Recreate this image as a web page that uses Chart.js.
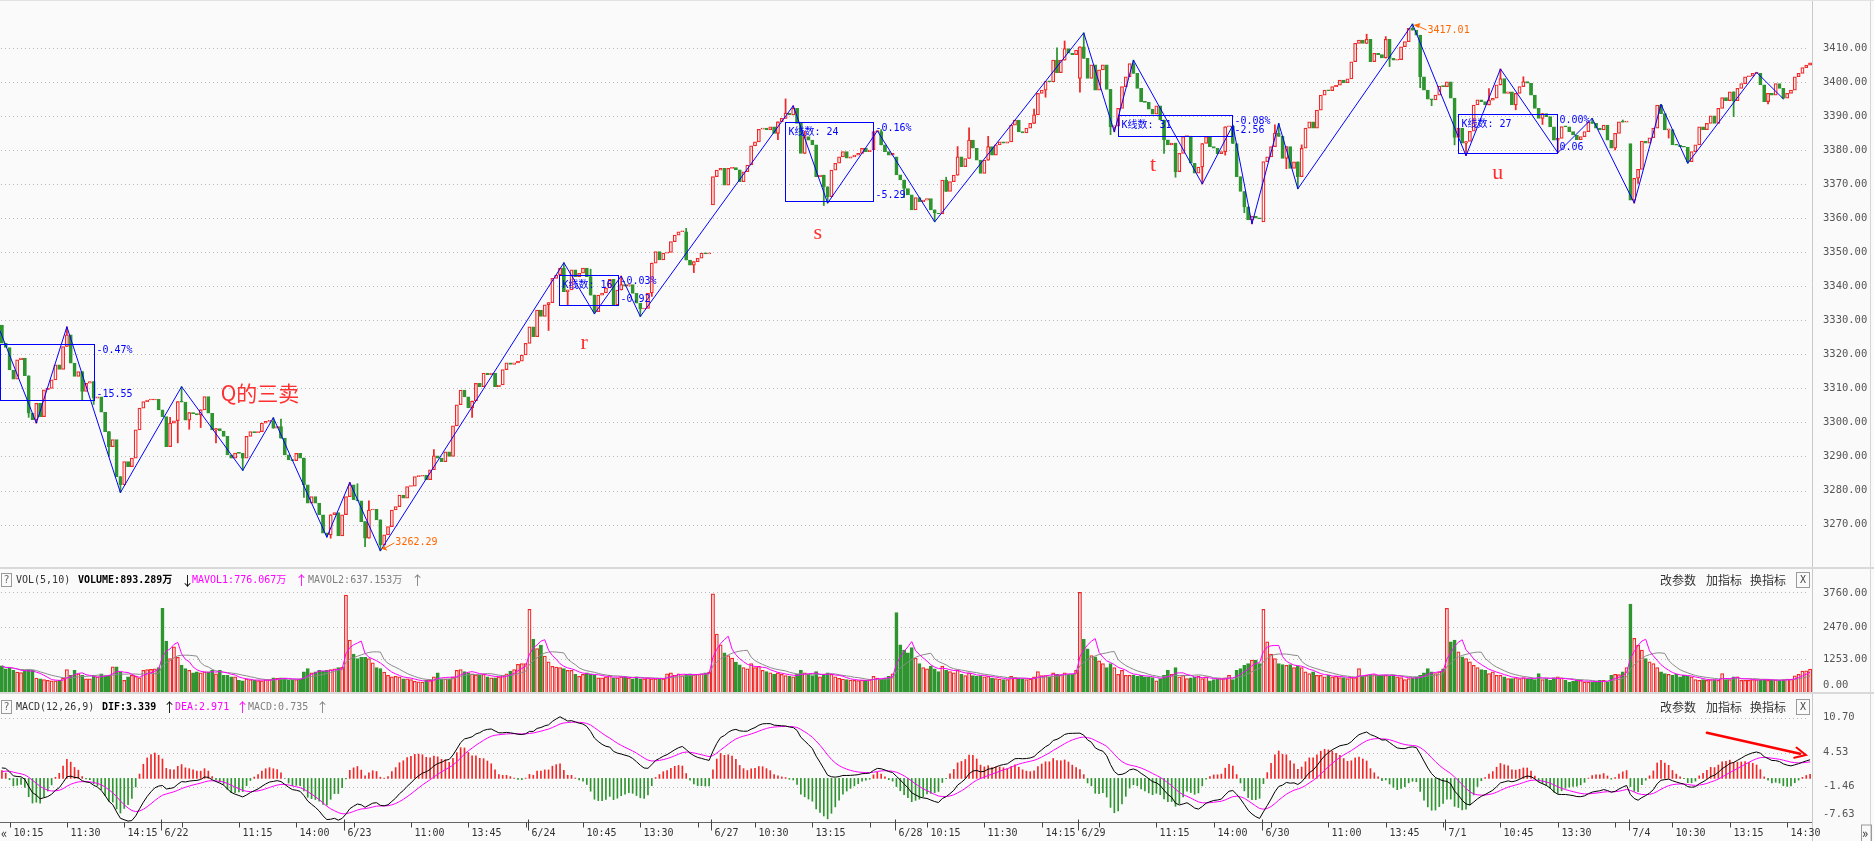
<!DOCTYPE html>
<html>
<head>
<meta charset="utf-8">
<script src="https://cdn.jsdelivr.net/npm/chart.js@4.4.1/dist/chart.umd.min.js"></script>
<style>
  html, body { margin: 0; padding: 0; background: #fafafa; }
  #wrap { position: relative; width: 1874px; height: 841px; overflow: hidden; background: #fafafa; }
  .pane { position: absolute; left: 0; width: 1874px; }
</style>
</head>
<body>
<div id="wrap">
  <div class="pane" style="top:0;height:569px"><canvas id="kline"></canvas></div>
  <div class="pane" style="top:569px;height:126px"><canvas id="vol"></canvas></div>
  <div class="pane" style="top:695px;height:146px"><canvas id="macd"></canvas></div>
</div>
<script>
// ---- data (5-minute bars, 6/21 10:05 .. 7/4 15:00) ----
const dayLabels = ['6/21', '6/22', '6/23', '6/24', '6/27', '6/28', '6/29', '6/30', '7/1', '7/4'];
const dayBars = [42, 48, 48, 48, 48, 48, 48, 48, 48, 48];
const firstSlot = 6; // first visible bar of 6/21 is the 10:05 bar
const dayOpens = [3328.6, 3303.7, 3272.9, 3323.2, 3363.9, 3378.0, 3401.0, 3358.9, 3398.6, 3381.9];

const closes = [
  // 6/21
  3323.3, 3322.0, 3315.4, 3312.7, 3318.4, 3318.9, 3313.7, 3302.7, 3300.8, 3305.6,
  3301.7, 3309.6, 3310.0, 3312.5, 3316.9, 3315.6, 3322.3, 3325.7, 3317.4, 3313.5,
  3314.9, 3309.1, 3311.5, 3312.0, 3307.1, 3307.5, 3303.0, 3297.3, 3292.9, 3295.0,
  3284.1, 3281.7, 3288.5, 3287.0, 3289.5, 3297.8, 3304.2, 3306.1, 3306.6, 3306.6,
  3306.8, 3303.7,
  // 6/22
  3301.7, 3292.9, 3299.8, 3300.5, 3306.1, 3306.0, 3300.7, 3302.9, 3302.6, 3302.2,
  3303.7, 3307.6, 3302.7, 3297.8, 3298.2, 3297.5, 3295.9, 3290.5, 3289.5, 3291.0,
  3290.9, 3289.5, 3295.9, 3297.3, 3297.0, 3297.3, 3299.8, 3300.3, 3300.3, 3298.3,
  3298.8, 3295.4, 3290.5, 3289.0, 3288.8, 3290.9, 3289.5, 3281.7, 3276.3, 3278.2,
  3276.3, 3272.9, 3267.5, 3267.0, 3272.9, 3273.5, 3266.7, 3272.9,
  // 6/23
  3278.2, 3281.7, 3277.3, 3277.0, 3270.9, 3266.0, 3274.3, 3274.5, 3271.4, 3264.0,
  3267.0, 3269.4, 3274.3, 3275.3, 3278.7, 3277.8, 3281.2, 3281.3, 3284.1, 3284.2,
  3284.5, 3283.2, 3286.1, 3290.2, 3289.5, 3288.5, 3291.4, 3290.0, 3299.0, 3305.2,
  3309.5, 3307.5, 3304.3, 3306.3, 3311.5, 3310.5, 3314.5, 3314.0, 3314.5, 3310.5,
  3311.0, 3315.5, 3317.5, 3317.0, 3317.5, 3318.0, 3319.8, 3323.2,
  // 6/24
  3328.1, 3325.2, 3333.0, 3331.1, 3334.5, 3335.2, 3342.3, 3343.3, 3345.3, 3338.4,
  3338.9, 3344.8, 3342.8, 3343.8, 3345.3, 3342.8, 3337.4, 3332.5, 3337.4, 3338.0,
  3339.5, 3342.0, 3334.5, 3338.9, 3340.5, 3340.0, 3340.5, 3337.9, 3335.0, 3333.3,
  3333.5, 3338.0, 3346.8, 3350.2, 3347.7, 3349.7, 3349.9, 3353.1, 3355.0, 3356.0,
  3356.0, 3347.7, 3346.2, 3347.2, 3348.2, 3349.7, 3349.5, 3349.8,
  // 6/27
  3372.2, 3374.1, 3374.6, 3369.7, 3374.6, 3374.8, 3374.2, 3370.7, 3373.6, 3375.6,
  3381.2, 3382.4, 3386.1, 3386.4, 3386.0, 3386.8, 3384.9, 3388.3, 3389.3, 3390.8,
  3390.3, 3392.2, 3387.8, 3379.0, 3383.9, 3382.9, 3381.5, 3372.2, 3372.6, 3369.2,
  3366.3, 3374.1, 3376.1, 3378.0, 3379.5, 3377.6, 3378.0, 3378.5, 3379.0, 3380.5,
  3379.5, 3380.0, 3385.4, 3385.4, 3381.5, 3379.5, 3378.5, 3379.0,
  // 6/28
  3372.7, 3371.2, 3368.7, 3366.8, 3362.4, 3366.0, 3364.8, 3365.3, 3365.7, 3362.4,
  3361.5, 3361.2, 3371.2, 3367.8, 3370.7, 3372.6, 3378.0, 3375.1, 3377.5, 3382.9,
  3380.5, 3377.0, 3373.1, 3377.0, 3381.0, 3378.5, 3381.5, 3382.4, 3382.0, 3382.4,
  3387.3, 3388.8, 3385.4, 3385.0, 3386.4, 3387.8, 3390.3, 3396.6, 3397.6, 3400.1,
  3400.0, 3406.4, 3402.7, 3406.4, 3409.8, 3408.4, 3408.0, 3409.3,
  // 6/29
  3410.3, 3406.9, 3401.0, 3405.0, 3397.6, 3403.5, 3405.0, 3397.8, 3386.8, 3387.0,
  3392.2, 3398.6, 3401.5, 3405.4, 3402.5, 3398.1, 3394.2, 3394.0, 3392.0, 3390.5,
  3393.0, 3388.8, 3383.0, 3381.5, 3382.0, 3373.6, 3379.0, 3383.9, 3384.1, 3376.1,
  3373.2, 3375.0, 3381.9, 3383.9, 3381.0, 3380.5, 3378.9, 3379.5, 3386.8, 3387.0,
  3381.9, 3372.2, 3367.8, 3363.3, 3359.5, 3360.5, 3360.0, 3359.8,
  // 6/30
  3376.6, 3378.0, 3381.0, 3385.0, 3384.0, 3377.5, 3381.0, 3374.6, 3376.5, 3372.2,
  3380.5, 3386.4, 3388.3, 3386.4, 3391.7, 3396.1, 3397.6, 3397.4, 3398.6, 3399.0,
  3400.5, 3399.8, 3400.9, 3405.9, 3411.3, 3412.3, 3411.3, 3412.5, 3405.9, 3408.4,
  3408.0, 3407.0, 3412.5, 3406.9, 3406.4, 3406.5, 3410.3, 3411.8, 3415.7, 3415.2,
  3413.7, 3401.5, 3397.6, 3394.9, 3394.7, 3396.1, 3398.8, 3398.6,
  // 7/1
  3400.0, 3395.2, 3383.7, 3386.4, 3382.0, 3382.5, 3385.5, 3393.2, 3394.7, 3394.2,
  3393.2, 3394.6, 3395.2, 3399.1, 3401.0, 3396.6, 3397.1, 3393.2, 3396.6, 3398.6,
  3400.1, 3399.6, 3396.1, 3392.2, 3389.3, 3390.7, 3389.8, 3386.8, 3382.9, 3383.4,
  3386.9, 3386.8, 3385.4, 3384.4, 3383.0, 3383.9, 3385.4, 3388.3, 3387.8, 3386.4,
  3385.9, 3387.3, 3382.9, 3380.5, 3384.9, 3388.3, 3388.2, 3388.3,
  // 7/4
  3365.3, 3371.7, 3374.3, 3382.6, 3382.0, 3383.6, 3386.4, 3393.2, 3390.7, 3385.9,
  3386.0, 3381.5, 3381.4, 3381.0, 3380.8, 3376.6, 3379.5, 3381.5, 3386.8, 3386.0,
  3387.8, 3390.0, 3387.8, 3392.2, 3395.4, 3394.5, 3397.1, 3394.5, 3398.1, 3399.5,
  3401.5, 3401.7, 3402.5, 3402.5, 3399.1, 3394.2, 3396.6, 3396.1, 3399.5, 3398.1,
  3395.2, 3396.6, 3397.6, 3401.5, 3402.5, 3404.2, 3404.9, 3405.6
];

// shadows that stick out of the bodies: [bar, price]
const wickHighs = [
  [17, 3328.1], [44, 3301.5], [47, 3310.5], [71, 3301.4], [73, 3301.0], [91, 3282.4], [93, 3282.0],
  [96, 3277.0], [113, 3292.0], [147, 3346.9], [154, 3345.0], [162, 3343.0], [179, 3357.0],
  [205, 3395.0], [207, 3393.0], [210, 3385.5], [229, 3385.6], [230, 3386.0], [247, 3372.0],
  [250, 3381.0], [253, 3386.5], [258, 3384.0], [270, 3392.0], [276, 3410.0], [278, 3412.0],
  [283, 3414.4], [296, 3406.4], [322, 3387.3], [333, 3387.4], [334, 3387.8], [340, 3381.5],
  [357, 3414.0], [362, 3413.3], [369, 3417.01], [389, 3398.0], [392, 3403.8], [398, 3401.5],
  [416, 3389.3], [424, 3388.8], [434, 3393.4], [459, 3402.8]
];
const wickLows = [
  [7, 3301.5], [9, 3299.8], [21, 3306.5], [24, 3305.3], [28, 3290.0], [31, 3279.4], [46, 3294.0],
  [49, 3298.0], [52, 3298.5], [56, 3294.0], [63, 3285.9], [79, 3278.0], [85, 3266.3], [86, 3266.0],
  [95, 3263.5], [99, 3262.29], [123, 3301.5], [143, 3327.0], [148, 3334.5], [155, 3331.9],
  [167, 3331.1], [170, 3337.0], [181, 3344.0], [203, 3383.0], [215, 3363.7], [216, 3364.4],
  [236, 3366.0], [244, 3358.9], [273, 3395.5], [282, 3397.0], [290, 3384.5], [291, 3385.3],
  [304, 3379.0], [307, 3372.0], [314, 3370.0], [320, 3378.5], [325, 3361.6], [327, 3358.3],
  [336, 3374.5], [339, 3368.6], [363, 3404.5], [371, 3398.3], [374, 3393.0], [380, 3381.5],
  [383, 3378.3], [396, 3391.8], [403, 3387.5], [407, 3379.2], [422, 3380.0], [427, 3364.4],
  [428, 3370.2], [436, 3383.5], [441, 3376.1], [449, 3389.5], [453, 3389.8], [462, 3393.5],
  [466, 3395.0]
];

// volume in 万
const volumes = [
  // 6/21
  1010, 900, 950, 850, 780, 760, 850, 870, 850, 560, 530, 500, 475, 450, 450, 475, 560, 870, 660, 850,
  720, 660, 530, 530, 660, 600, 720, 620, 660, 980, 980, 790, 475, 600, 660, 620, 570, 850, 870, 880,
  900, 950,
  // 6/22
  3160, 1936, 1290, 1725, 1330, 1040, 910, 850, 750, 790, 750, 790, 790, 850, 720, 850, 660, 660, 600, 600,
  475, 450, 530, 500, 475, 460, 450, 500, 500, 570, 545, 570, 560, 475, 500, 500, 520, 790, 910, 750,
  790, 850, 820, 850, 870, 900, 950, 960,
  // 6/23
  3659, 1975, 1450, 1290, 1330, 1330, 1290, 1125, 950, 910, 780, 660, 600, 620, 600, 530, 530, 500, 440, 420,
  410, 475, 475, 600, 750, 530, 530, 530, 600, 850, 870, 800, 750, 720, 680, 660, 700, 600, 570, 570,
  600, 650, 720, 820, 870, 1075, 1100, 1100,
  // 6/24
  3124, 2000, 1660, 1790, 1380, 1165, 1000, 970, 950, 910, 850, 850, 700, 620, 700, 750, 720, 660, 570, 570,
  600, 660, 570, 570, 600, 600, 570, 530, 600, 530, 530, 570, 530, 530, 530, 530, 720, 750, 660, 720,
  650, 700, 720, 680, 700, 720, 750, 780,
  // 6/27
  3700, 2200, 1800, 1500, 1400, 1300, 1150, 1050, 950, 900, 1100, 950, 1000, 850, 800, 750, 700, 750, 700, 650,
  620, 600, 700, 850, 750, 700, 650, 800, 600, 700, 750, 700, 600, 550, 520, 500, 480, 470, 460, 480,
  470, 500, 620, 560, 520, 560, 620, 720,
  // 6/28
  3000, 1800, 1600, 1500, 1700, 1300, 1100, 950, 900, 1000, 900, 800, 1000, 850, 800, 750, 850, 700, 650, 750,
  650, 620, 650, 600, 620, 560, 540, 520, 500, 500, 620, 580, 550, 520, 500, 520, 600, 800, 650, 650,
  600, 750, 700, 680, 750, 700, 720, 850,
  // 6/29
  3760, 2000, 1650, 1400, 1350, 1200, 1100, 950, 1100, 950, 700, 850, 662, 662, 662, 625, 662, 600, 600, 575,
  450, 537, 662, 850, 700, 950, 600, 662, 537, 562, 600, 625, 537, 600, 450, 500, 537, 537, 562, 662,
  500, 850, 912, 1037, 1100, 1225, 1225, 1100,
  // 6/30
  3124, 1912, 1450, 1287, 1100, 1062, 1037, 1062, 950, 1000, 950, 787, 725, 787, 662, 662, 600, 662, 600, 625,
  575, 575, 537, 575, 575, 912, 625, 662, 687, 687, 662, 662, 662, 637, 662, 600, 575, 500, 537, 575,
  600, 662, 750, 912, 787, 725, 787, 900,
  // 7/1
  3160, 1912, 1975, 1537, 1350, 1287, 1162, 1037, 950, 875, 850, 725, 787, 662, 662, 600, 537, 537, 575, 537,
  575, 537, 537, 500, 725, 500, 537, 475, 562, 600, 562, 475, 412, 437, 475, 475, 412, 412, 412, 412,
  475, 475, 412, 662, 700, 687, 787, 950,
  // 7/4
  3322, 2037, 1787, 1600, 1287, 1162, 1100, 950, 787, 725, 700, 662, 700, 600, 662, 625, 600, 500, 475, 500,
  475, 500, 500, 475, 725, 500, 500, 600, 600, 475, 475, 475, 500, 500, 500, 500, 475, 475, 480, 470,
  500, 520, 521.2, 640, 700, 820, 827, 893.289
];

// zig-zag stroke pivots [bar, price]
const zigzag = [
  [-0.5, 3326.9], [9, 3299.8], [17, 3328.1], [31, 3279.4], [47, 3310.5], [63, 3285.9], [71, 3301.4],
  [85, 3266.3], [91, 3282.4], [99, 3262.29], [147, 3346.9], [155, 3331.9], [162, 3343.0], [167, 3331.1],
  [207, 3393.0], [216, 3364.4], [229, 3385.6], [244, 3358.9], [283, 3414.4], [291, 3385.3], [296, 3406.4],
  [314, 3370.0], [322, 3387.3], [327, 3358.3], [334, 3387.8], [339, 3368.6], [369, 3417.01], [383, 3378.3],
  [392, 3403.8], [407, 3379.2], [416, 3389.3], [427, 3364.4], [434, 3393.4], [441, 3376.1], [459, 3402.8],
  [466, 3395.0]
];

// pivot boxes
const boxFrom = [-0.5, 145.8, 204.9, 291.9, 380.9];
const boxTo = [24.0, 161.1, 227.9, 321.8, 406.9];
const boxHi = [3323.0, 3343.2, 3388.1, 3390.2, 3390.5];
const boxLo = [3306.5, 3334.4, 3364.9, 3384.0, 3379.0];
const boxCount = [null, 16, 24, 31, 27];
const boxPct = ['-0.47%', '-0.03%', '-0.16%', '-0.08%', '0.00%'];
const boxDiff = ['-15.55', '-0.92', '-5.29', '-2.56', '0.06'];

// hand-written notes [bar, price, text]
const notes = [[67.5, 3308.7, 'Q的三卖'], [152.3, 3323.3, 'r'], [213.4, 3355.6, 's'], [301.1, 3375.6, 't'], [391.3, 3373.2, 'u']];
const extremes = [[99, 3262.29, 'low'], [369, 3417.01, 'high']];
// red arrow drawn over the MACD panel: [bar, value] start -> end
const macdArrow = [[446.0, 8.05], [471.9, 4.12]];

const priceTicks = [3270, 3280, 3290, 3300, 3310, 3320, 3330, 3340, 3350, 3360, 3370, 3380, 3390, 3400, 3410];
const volTicks = [0, 1253, 2470, 3760];
const macdTicks = [-7.63, -1.46, 4.53, 10.70];
const emaSeed = [3321.0, 3319.2]; // EMA12 / EMA26 carried in from before the window
const deaSeed = 1.0;

// ---- derived series ----
const N = closes.length;
if (N !== volumes.length) console.error('length mismatch', N, volumes.length);
const dayStart = [];
dayBars.reduce((s, n) => { dayStart.push(s); return s + n; }, 0);
const opens = closes.map((c, i) => {
  const d = dayStart.indexOf(i);
  return d >= 0 ? dayOpens[d] : closes[i - 1];
});
const up = closes.map((c, i) => c >= opens[i]);
const highs = closes.map((c, i) => Math.max(c, opens[i]));
const lows = closes.map((c, i) => Math.min(c, opens[i]));
wickHighs.forEach(([i, p]) => { highs[i] = Math.max(highs[i], p); });
wickLows.forEach(([i, p]) => { lows[i] = Math.min(lows[i], p); });
const wickBars = [];
for (let i = 0; i < N; i++) if (highs[i] > Math.max(closes[i], opens[i]) || lows[i] < Math.min(closes[i], opens[i])) wickBars.push(i);

function movingAvg(arr, n) {
  return arr.map((v, i) => {
    const s = arr.slice(Math.max(0, i - n + 1), i + 1);
    return s.reduce((a, b) => a + b, 0) / s.length;
  });
}
const mavol1 = movingAvg(volumes, 5);
const mavol2 = movingAvg(volumes, 10);

let e12 = emaSeed[0], e26 = emaSeed[1], dea = deaSeed;
const difS = [], deaS = [], histS = [];
closes.forEach(c => {
  e12 += (c - e12) * 2 / 13;
  e26 += (c - e26) * 2 / 27;
  const dif = e12 - e26;
  dea += (dif - dea) * 2 / 10;
  difS.push(dif); deaS.push(dea); histS.push(2 * (dif - dea));
});

// ---- look ----
const RED = '#f02828', GREEN = '#2f9530', BG = '#fafafa', BLUE = '#0000ff';
const AXIS_FONT = '10.5px "DejaVu Sans Mono", "Noto Sans CJK SC"';
const SMALL_FONT = '10px "DejaVu Sans Mono", "Noto Sans CJK SC"';
const ARROW_FONT = '13px "Noto Sans CJK SC"';
const CJK_FONT = '12px "Noto Sans CJK SC"';
const AXIS_W = 62;

function xScale(display) {
  return { type: 'linear', min: -0.5, max: N - 0.5, display: display, offset: false,
           grid: { display: false }, ticks: { display: false }, border: { display: false } };
}
function yScale(min, max) {
  return { position: 'right', min: min, max: max,
           grid: { display: false }, ticks: { display: false }, border: { display: false },
           afterFit: s => { s.width = AXIS_W; } };
}
function hline(ctx, x1, x2, y, color, w) {
  ctx.save(); ctx.strokeStyle = color; ctx.lineWidth = w || 1; ctx.setLineDash([]);
  ctx.beginPath(); ctx.moveTo(x1, y); ctx.lineTo(x2, y); ctx.stroke(); ctx.restore();
}
function vline(ctx, x, y1, y2, color, w) {
  ctx.save(); ctx.strokeStyle = color; ctx.lineWidth = w || 1; ctx.setLineDash([]);
  ctx.beginPath(); ctx.moveTo(x, y1); ctx.lineTo(x, y2); ctx.stroke(); ctx.restore();
}
// dotted grid + right-hand labels for one panel
function panelAxis(id, gridVals, labelVals, digits) {
  return {
    id: id,
    beforeDatasetsDraw(chart) {
      const { ctx, chartArea: a, scales: { y } } = chart;
      ctx.save();
      ctx.strokeStyle = '#b8b8b8'; ctx.lineWidth = 1; ctx.setLineDash([1, 3]);
      gridVals.forEach(v => {
        const py = Math.round(y.getPixelForValue(v)) + 0.5;
        if (py < a.top + 1 || py > a.bottom - 1) return;
        ctx.beginPath(); ctx.moveTo(a.left + 1, py); ctx.lineTo(a.right - 4, py); ctx.stroke();
      });
      ctx.restore();
    },
    afterDraw(chart) {
      const { ctx, chartArea: a, scales: { y } } = chart;
      const H = chart.height;
      ctx.save();
      ctx.font = AXIS_FONT; ctx.fillStyle = '#555'; ctx.textAlign = 'left'; ctx.textBaseline = 'middle';
      labelVals.forEach(v => {
        let py = y.getPixelForValue(v);
        py = Math.min(Math.max(py, a.top + 5), a.bottom - 8);
        ctx.fillText(v.toFixed(digits), a.right + 11, py);
      });
      ctx.restore();
      vline(ctx, a.right + 0.5, 0, H, '#c9c9c9');
      vline(ctx, 1870.5, 0, H, '#d6d6d6');
    }
  };
}

// ---- main K-line chart ----
const klineDecor = {
  id: 'klineDecor',
  afterDatasetsDraw(chart) {
    const { ctx, chartArea: a, scales: { x, y } } = chart;
    ctx.save();
    ctx.beginPath(); ctx.rect(a.left, a.top, a.right - a.left, a.bottom - a.top); ctx.clip();
    ctx.strokeStyle = BLUE; ctx.lineWidth = 1; ctx.fillStyle = BLUE;
    ctx.font = SMALL_FONT; ctx.textBaseline = 'middle'; ctx.textAlign = 'left';
    for (let k = 0; k < boxFrom.length; k++) {
      const l = Math.round(x.getPixelForValue(boxFrom[k])) + 0.5;
      const r = Math.round(x.getPixelForValue(boxTo[k])) + 0.5;
      const t = Math.round(y.getPixelForValue(boxHi[k])) + 0.5;
      const b = Math.round(y.getPixelForValue(boxLo[k])) + 0.5;
      ctx.strokeRect(l, t, r - l, b - t);
      if (boxCount[k] !== null) ctx.fillText('K线数: ' + boxCount[k], l + 3, t + 10);
      ctx.fillText(boxPct[k], r + 2, t + 6);
      ctx.fillText(boxDiff[k], r + 2, b - 6);
    }
    // notes
    ctx.fillStyle = '#ff3030'; ctx.textAlign = 'center';
    notes.forEach(([bx, p, txt]) => {
      ctx.font = txt.length > 1 ? '21px "Noto Sans CJK SC"' : '22px "Liberation Serif"';
      ctx.fillText(txt, x.getPixelForValue(bx), y.getPixelForValue(p));
    });
    // extreme price tags
    ctx.font = SMALL_FONT; ctx.textAlign = 'left';
    extremes.forEach(([bx, p, kind]) => {
      const px = x.getPixelForValue(bx), py = y.getPixelForValue(p);
      const tx = px + 15, ty = kind === 'low' ? py - 8 : py + 6;
      ctx.strokeStyle = '#ff6600'; ctx.fillStyle = '#ff6600'; ctx.lineWidth = 1;
      ctx.beginPath();
      if (kind === 'low') { ctx.moveTo(px + 1, py - 2); ctx.lineTo(px + 7, py); ctx.lineTo(px + 4, py - 5); }
      else { ctx.moveTo(px + 1, py + 1); ctx.lineTo(px + 8, py - 1); ctx.lineTo(px + 6, py + 4); }
      ctx.closePath(); ctx.fill();
      ctx.beginPath(); ctx.moveTo(px + 5, py + (kind === 'low' ? -3 : 2)); ctx.lineTo(tx - 1, ty); ctx.stroke();
      ctx.fillText(p.toFixed(2), tx, ty);
    });
    ctx.restore();
  },
  afterDraw(chart) {
    const { ctx } = chart;
    hline(ctx, 0, 1874, 0.5, '#e2e2e2');
    hline(ctx, 0, 1874, 568, '#d9d9d9', 2);
  }
};

new Chart(document.getElementById('kline'), {
  data: {
    datasets: [
      { type: 'line', data: zigzag.map(([bx, p]) => ({ x: bx, y: p })), borderColor: BLUE, borderWidth: 1,
        pointRadius: 0, tension: 0, order: 0 },
      { type: 'bar', grouped: false, order: 1, barThickness: 3.2, borderWidth: 1.25, borderSkipped: false, minBarLength: 1,
        data: closes.map((c, i) => ({ x: i, y: [opens[i], c], up: up[i] })),
        backgroundColor: c => (c.raw && c.raw.up ? BG : GREEN),
        borderColor: c => (c.raw && c.raw.up ? RED : GREEN) },
      { type: 'bar', grouped: false, order: 2, barThickness: 1.1, borderWidth: 0,
        data: wickBars.map(i => ({ x: i, y: [lows[i], highs[i]], up: up[i] })),
        backgroundColor: c => (c.raw && c.raw.up ? RED : GREEN) }
    ]
  },
  options: {
    responsive: true, maintainAspectRatio: false, animation: false,
    layout: { padding: { top: 0, right: 0, bottom: 1, left: 0 } },
    plugins: { legend: { display: false }, tooltip: { enabled: false } },
    scales: { x: xScale(false), y: yScale(3257.26, 3424.04) }
  },
  plugins: [panelAxis('kAxis', priceTicks, priceTicks, 2), klineDecor]
});

// ---- header rows ----
function drawHeader(ctx, cy, parts) {
  ctx.save();
  ctx.strokeStyle = '#9a9a9a'; ctx.lineWidth = 1;
  ctx.strokeRect(1.5, cy - 6.5, 10, 13);
  ctx.font = SMALL_FONT; ctx.fillStyle = '#666'; ctx.textAlign = 'center'; ctx.textBaseline = 'middle';
  ctx.fillText('?', 6.5, cy + 0.5);
  ctx.textAlign = 'left';
  parts.forEach(([px, txt, color, bold]) => {
    ctx.font = txt.length === 1 ? ARROW_FONT : (bold ? 'bold ' : '') + SMALL_FONT;
    ctx.fillStyle = color;
    ctx.fillText(txt, px, cy);
  });
  ctx.font = CJK_FONT; ctx.fillStyle = '#333';
  ctx.fillText('改参数', 1660, cy); ctx.fillText('加指标', 1706, cy); ctx.fillText('换指标', 1750, cy);
  ctx.strokeStyle = '#9a9a9a'; ctx.strokeRect(1796.5, cy - 7.5, 13, 15);
  ctx.font = SMALL_FONT; ctx.fillStyle = '#444'; ctx.textAlign = 'center';
  ctx.fillText('X', 1803, cy);
  ctx.restore();
}

// ---- volume chart ----
const volDecor = {
  id: 'volDecor',
  afterDraw(chart) {
    const { ctx } = chart;
    drawHeader(ctx, 11, [
      [16, 'VOL(5,10)', '#333'], [78, 'VOLUME:893.289万', '#000', true], [181, '↓', '#000'],
      [192, 'MAVOL1:776.067万', '#ff00ff'], [295, '↑', '#ff00ff'],
      [308, 'MAVOL2:637.153万', '#808080'], [411, '↑', '#808080']
    ]);
    hline(ctx, 0, 1874, 124, '#d9d9d9', 2);
  }
};
new Chart(document.getElementById('vol'), {
  data: {
    datasets: [
      { type: 'line', data: mavol1.map((v, i) => ({ x: i, y: v })), borderColor: '#ff00ff', borderWidth: 1, pointRadius: 0, order: 0 },
      { type: 'line', data: mavol2.map((v, i) => ({ x: i, y: v })), borderColor: '#8a8a8a', borderWidth: 1, pointRadius: 0, order: 1 },
      { type: 'bar', grouped: false, order: 2, barThickness: 3.2, borderWidth: 1.25, borderSkipped: false,
        data: volumes.map((v, i) => ({ x: i, y: v, up: up[i] })),
        backgroundColor: c => (c.raw && c.raw.up ? BG : GREEN),
        borderColor: c => (c.raw && c.raw.up ? RED : GREEN) }
    ]
  },
  options: {
    responsive: true, maintainAspectRatio: false, animation: false,
    layout: { padding: { top: 19, right: 0, bottom: 2, left: 0 } },
    plugins: { legend: { display: false }, tooltip: { enabled: false } },
    scales: { x: xScale(false), y: yScale(0, 3921) }
  },
  plugins: [panelAxis('vAxis', volTicks, volTicks, 2), volDecor]
});

// ---- MACD chart with the time axis ----
function slotTime(slot) {
  const m = slot < 24 ? 9 * 60 + 35 + 5 * slot : 13 * 60 + 5 + 5 * (slot - 24);
  return Math.floor(m / 60) + ':' + String(m % 60).padStart(2, '0');
}
const macdDecor = {
  id: 'macdDecor',
  afterDatasetsDraw(chart) {
    const { ctx, scales: { x, y } } = chart;
    const [s, e] = macdArrow;
    const x1 = x.getPixelForValue(s[0]), y1 = y.getPixelForValue(s[1]);
    const x2 = x.getPixelForValue(e[0]), y2 = y.getPixelForValue(e[1]);
    const ang = Math.atan2(y2 - y1, x2 - x1);
    ctx.save();
    ctx.strokeStyle = '#ff0000'; ctx.fillStyle = '#ff0000'; ctx.lineWidth = 2.5; ctx.lineCap = 'round';
    ctx.beginPath(); ctx.moveTo(x1, y1); ctx.lineTo(x2 - 6 * Math.cos(ang), y2 - 6 * Math.sin(ang)); ctx.stroke();
    ctx.lineWidth = 2;
    ctx.beginPath();
    ctx.moveTo(x2 - 12 * Math.cos(ang - 0.45), y2 - 12 * Math.sin(ang - 0.45));
    ctx.lineTo(x2, y2);
    ctx.lineTo(x2 - 12 * Math.cos(ang + 0.45), y2 - 12 * Math.sin(ang + 0.45));
    ctx.stroke();
    ctx.restore();
  },
  afterDraw(chart) {
    const { ctx, chartArea: a, scales: { x } } = chart;
    drawHeader(ctx, 12, [
      [16, 'MACD(12,26,9)', '#333'], [102, 'DIF:3.339', '#000', true], [163, '↑', '#000'],
      [175, 'DEA:2.971', '#ff00ff'], [236, '↑', '#ff00ff'],
      [248, 'MACD:0.735', '#808080'], [316, '↑', '#808080']
    ]);
    const by = Math.round(a.bottom) + 0.5;
    hline(ctx, 0, a.right, by, '#666');
    ctx.save();
    ctx.font = SMALL_FONT; ctx.fillStyle = '#333'; ctx.textAlign = 'left'; ctx.textBaseline = 'middle';
    const ly = by + 11;
    // time ticks every 15 bars
    for (let g = 2; g < N; g += 15) {
      let d = 0;
      while (d + 1 < dayStart.length && dayStart[d + 1] <= g) d++;
      const slot = g - dayStart[d] + (d === 0 ? firstSlot : 0);
      const px = Math.round(x.getPixelForValue(g)) + 0.5;
      vline(ctx, px, by, by + 5, '#444');
      const nextStart = d + 1 < dayStart.length ? dayStart[d + 1] : null;
      const hide = (d > 0 && g - dayStart[d] < 8) || (nextStart !== null && nextStart - g <= 7);
      if (!hide) ctx.fillText(slotTime(slot), px + 3, ly);
    }
    // day boundaries
    for (let d = 1; d < dayStart.length; d++) {
      const px = Math.round(x.getPixelForValue(dayStart[d] - 0.5)) + 0.5;
      vline(ctx, px, by - 3, by + 8, '#444');
      ctx.fillText(dayLabels[d], px + 3, ly);
    }
    ctx.font = ARROW_FONT;
    ctx.fillText('«', 1, ly);
    ctx.strokeStyle = '#9a9a9a'; ctx.strokeRect(1861.5, ly - 8.5, 10, 17);
    ctx.fillText('»', 1862, ly);
    ctx.restore();
  }
};
new Chart(document.getElementById('macd'), {
  data: {
    datasets: [
      { type: 'line', data: difS.map((v, i) => ({ x: i, y: v })), borderColor: '#000000', borderWidth: 1, pointRadius: 0, order: 0 },
      { type: 'line', data: deaS.map((v, i) => ({ x: i, y: v })), borderColor: '#ff00ff', borderWidth: 1, pointRadius: 0, order: 1 },
      { type: 'bar', grouped: false, order: 2, barThickness: 1, borderWidth: 0,
        data: histS.map((v, i) => ({ x: i, y: v })),
        backgroundColor: c => (c.raw && c.raw.y >= 0 ? RED : GREEN) }
    ]
  },
  options: {
    responsive: true, maintainAspectRatio: false, animation: false,
    layout: { padding: { top: 17, right: 0, bottom: 19, left: 0 } },
    plugins: { legend: { display: false }, tooltip: { enabled: false } },
    scales: { x: xScale(false), y: yScale(-7.68, 11.70) }
  },
  plugins: [panelAxis('mAxis', macdTicks, macdTicks, 2), macdDecor]
});
</script>
</body>
</html>
